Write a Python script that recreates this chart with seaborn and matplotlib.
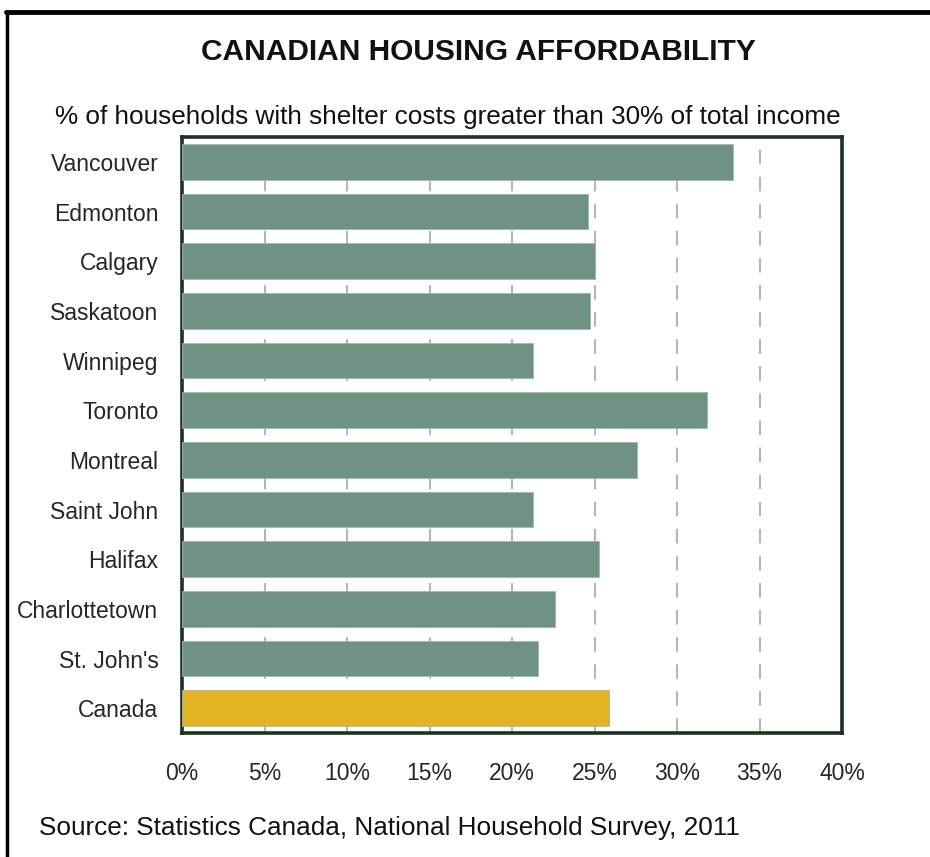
import matplotlib
matplotlib.use("Agg")
import matplotlib.pyplot as plt
import seaborn as sns
import pandas as pd
from matplotlib.lines import Line2D

cities = ["Vancouver", "Edmonton", "Calgary", "Saskatoon", "Winnipeg", "Toronto",
          "Montreal", "Saint John", "Halifax", "Charlottetown", "St. John's", "Canada"]
values = [33.4, 24.6, 25.0, 24.7, 21.3, 31.8, 27.6, 21.3, 25.3, 22.6, 21.6, 25.9]
groups = ["city"] * 11 + ["national"]
xticks = [0, 5, 10, 15, 20, 25, 30, 35, 40]
xtick_labels = [f"{v}%" for v in xticks]

sns.set_theme(style="white")
plt.rcParams['font.family'] = ['Liberation Sans', 'DejaVu Sans']

df = pd.DataFrame({"city": cities, "value": values, "group": groups})

fig = plt.figure(figsize=(9.3, 8.57), dpi=100)
ax = fig.add_axes([0.1957, 0.1447, 0.7097, 0.6953])

sns.barplot(data=df, x="value", y="city", hue="group",
            palette={"city": "#6F9283", "national": "#E4B323"},
            saturation=1, dodge=False, width=0.72, legend=False, ax=ax,
            edgecolor="#9dbaac", linewidth=0.6, zorder=3)

ax.set_xlim(0, 40)
ax.set_ylim(11.5, -0.5)
ax.set_xticks(xticks)
ax.set_xticklabels(xtick_labels, fontsize=16.5)
ax.tick_params(axis="x", length=0, pad=21)
ax.tick_params(axis="y", length=0, pad=17, labelsize=16.5)
ax.set_xlabel("")
ax.set_ylabel("")

for v in xticks[1:-1]:
    ax.axvline(v, color="#b5b5b5", linewidth=1.5, linestyle=(0, (7, 6)), zorder=1)

for s in ax.spines.values():
    s.set_visible(True)
    s.set_color("#1c3320")
    s.set_linewidth(2.6)

fig.text(0.514, 0.939, "CANADIAN HOUSING AFFORDABILITY", ha="center", va="center",
         fontsize=21.5, fontweight="bold", color="#111111")
fig.text(0.481, 0.864, "% of households with shelter costs greater than 30% of total income",
         ha="center", va="center", fontsize=18.8, color="#111111")
fig.text(0.042, 0.034, "Source: Statistics Canada, National Household Survey, 2011",
         ha="left", va="center", fontsize=18.8, color="#111111")

fig.add_artist(Line2D([0.006, 1.0], [0.986, 0.986], transform=fig.transFigure,
                      color="black", linewidth=3.5))
fig.add_artist(Line2D([0.007, 0.007], [0.0, 0.986], transform=fig.transFigure,
                      color="black", linewidth=2.5))

fig.savefig("out.png", dpi=100, facecolor="white")
